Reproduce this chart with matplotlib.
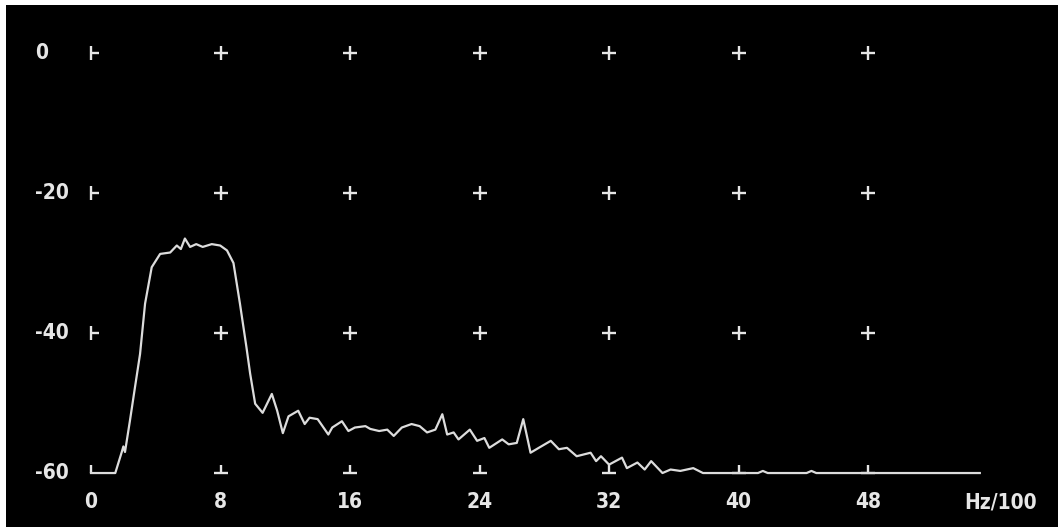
import numpy as np
import matplotlib
matplotlib.use("Agg")
import matplotlib.pyplot as plt

# Spectrum trace (frequency in Hz/100, level in dB)
freq = [0.0, 1.5, 1.9, 2.0, 2.1, 2.4, 2.7, 3.03, 3.34, 3.75, 4.27, 4.89, 5.3, 5.55, 5.8,
        6.12, 6.5, 6.9, 7.46, 7.98, 8.4, 8.8, 9.2, 9.6, 9.83, 10.14, 10.6, 11.17, 11.5,
        11.85, 12.2, 12.8, 13.2, 13.5, 14.0, 14.66, 14.9, 15.5, 15.9, 16.3, 16.95, 17.25,
        17.8, 18.3, 18.7, 19.2, 19.8, 20.3, 20.76, 21.27, 21.7, 22.0, 22.4, 22.7, 23.4,
        23.85, 24.3, 24.6, 25.4, 25.8, 26.3, 26.7, 27.15, 27.66, 28.4, 28.9, 29.4, 30.0,
        30.86, 31.2, 31.5, 32.0, 32.8, 33.1, 33.75, 34.2, 34.6, 35.3, 35.8, 36.4, 36.8,
        37.2, 37.8, 41.2, 41.5, 41.8, 44.2, 44.5, 44.8, 54.9]
level = [-60.0, -60.0, -57.0, -56.2, -57.0, -52.6, -48.0, -43.0, -35.8, -30.6, -28.7,
         -28.5, -27.5, -28.0, -26.5, -27.7, -27.3, -27.7, -27.3, -27.5, -28.2, -30.0,
         -35.8, -42.0, -45.8, -50.1, -51.4, -48.7, -51.1, -54.3, -51.9, -51.1, -53.0,
         -52.1, -52.3, -54.5, -53.5, -52.6, -54.0, -53.5, -53.3, -53.7, -54.0, -53.8,
         -54.7, -53.5, -53.0, -53.3, -54.2, -53.8, -51.6, -54.5, -54.2, -55.2, -53.8,
         -55.4, -55.0, -56.4, -55.2, -55.9, -55.7, -52.3, -57.1, -56.4, -55.4, -56.6,
         -56.4, -57.6, -57.1, -58.3, -57.6, -58.8, -57.8, -59.3, -58.5, -59.5, -58.3,
         -60.0, -59.5, -59.7, -59.5, -59.3, -60.0, -60.0, -59.7, -60.0, -60.0, -59.7,
         -60.0, -60.0]

x_ticks = [0, 8, 16, 24, 32, 40, 48]
x_tick_labels = ["0", "8", "16", "24", "32", "40", "48"]
y_ticks = [0, -20, -40, -60]
y_tick_labels = ["0", "-20", "-40", "-60"]
x_unit_label = "Hz/100"

FG = "#e6e6e6"
LINE = "#dcdcdc"

W, H = 1058, 527
fig = plt.figure(figsize=(W / 100, H / 100), dpi=100, facecolor="white")
ax = fig.add_axes([6 / W, 0, 1 - 6 / W, 1 - 5 / H])
ax.set_facecolor("black")
ax.set_xlim(-5.25, 59.73)
ax.set_ylim(-67.71, 6.86)
ax.set_xticks([])
ax.set_yticks([])
for s in ax.spines.values():
    s.set_visible(False)

ms = 10
mew = 1.7
# grid crosses
gx, gy = np.meshgrid(x_ticks[1:], y_ticks[:-1])
ax.plot(gx.ravel(), gy.ravel(), linestyle="none", marker="+", ms=ms, mew=mew, color=FG, zorder=2)
# left edge ⊢ marks
left_y = y_ticks[:-1]
ax.plot([x_ticks[0]] * len(left_y), left_y, linestyle="none", marker="|", ms=ms, mew=mew, color=FG, zorder=2)
ax.plot([x_ticks[0]] * len(left_y), left_y, linestyle="none", marker=1, ms=ms * 0.6, mew=mew, color=FG, zorder=2)
# bottom ⊥ marks
bx = x_ticks[1:]
ax.plot(bx, [y_ticks[-1]] * len(bx), linestyle="none", marker="_", ms=ms, mew=mew, color=FG, zorder=2)
ax.plot(bx, [y_ticks[-1]] * len(bx), linestyle="none", marker=2, ms=ms * 0.6, mew=mew, color=FG, zorder=2)
ax.plot([x_ticks[0]], [y_ticks[-1]], linestyle="none", marker=2, ms=ms * 0.6, mew=mew, color=FG, zorder=2)

# spectrum trace
ax.plot(freq, level, color=LINE, lw=1.6, zorder=3)

font = dict(family=["DejaVu Sans"], fontstretch="condensed", fontweight="bold",
            fontsize=15, color=FG)
for yv, lab in zip(y_ticks, y_tick_labels):
    ax.text(-3.46, yv, lab, ha="left", va="center", **font)
for xv, lab in zip(x_ticks, x_tick_labels):
    ax.text(xv, -64.2, lab, ha="center", va="center", **font)
ax.text(56.2, -64.2, x_unit_label, ha="center", va="center", **font)

fig.savefig("out.png", dpi=100, facecolor=fig.get_facecolor())
